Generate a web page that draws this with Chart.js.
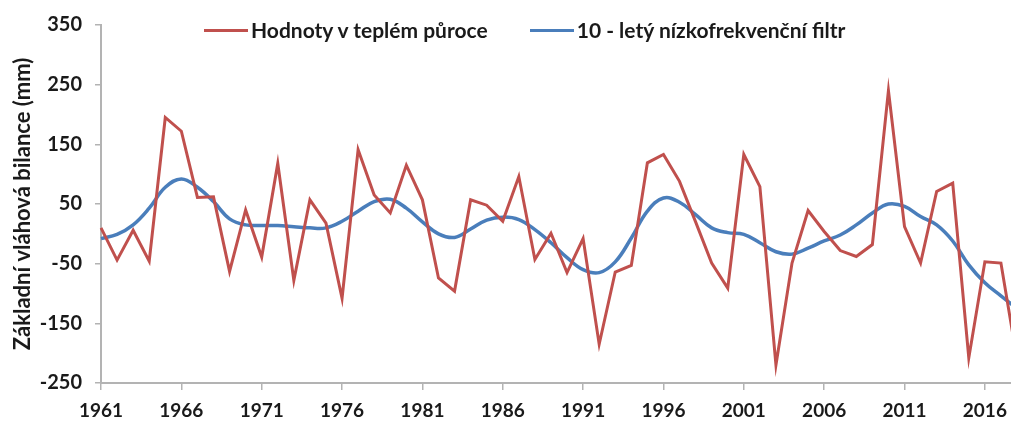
<!DOCTYPE html>
<html>
<head>
<meta charset="utf-8">
<script src="https://cdn.jsdelivr.net/npm/chart.js@4.4.1/dist/chart.umd.min.js"></script>
<style>
  html, body { margin: 0; padding: 0; overflow: hidden; background: #fff; }
  #wrap { position: relative; width: 1040px; height: 421px; }
  #legend {
    position: absolute; top: 17px; left: 204px;
    font: bold 21px Lato, sans-serif; line-height: 26px; color: #1a1a1a;
    display: flex; align-items: center; white-space: nowrap;
  }
  #legend .item { display: flex; align-items: center; margin-right: 42px; }
  #legend .line { width: 44px; height: 3px; margin-right: 3px; }
</style>
</head>
<body>
<div id="wrap">
  <canvas id="chart" width="1040" height="421"></canvas>
  <div id="legend"></div>
</div>
<script>
// years 1961-2018
const years = Array.from({ length: 58 }, (_, i) => String(1961 + i));

// values in the warm half-year (mm)
const warmValues = [
  10, -44, 6, -46, 195, 172, 61, 62, -63, 40,
  -39, 118, -78, 57, 18, -108, 141, 65, 35, 115,
  57, -74, -96, 57, 48, 21, 96, -43, 1, -65,
  -8, -185, -64, -53, 119, 133, 88, 20, -49, -91,
  133, 79, -220, -49, 39, 4, -28, -38, -18, 240,
  12, -49, 71, 85, -208, -47, -49, -210
];

// 10-year low-pass filter
const filterValues = [
  -8, -1, 15, 43, 78, 92, 78, 54, 25, 15,
  14, 14, 12, 10, 10, 21, 38, 54, 58, 43,
  20, 0, -6, 8, 23, 28, 24, 7, -15, -40,
  -60, -65, -47, -7, 38, 60, 53, 32, 10, 2,
  -1, -15, -30, -34, -24, -12, -2, 15, 35, 50,
  46, 29, 15, -12, -52, -82, -104, -125
];

const seriesNames = ["Hodnoty v teplém půroce", "10 - letý nízkofrekvenční filtr"];
const seriesColors = ["#c0504d", "#4a7ebb"];

const axisColor = "#b3b3b3";
const textColor = "#1a1a1a";
const tickFont = { family: "Lato", size: 19, weight: "bold" };

const ctx = document.getElementById("chart").getContext("2d");
new Chart(ctx, {
  type: "line",
  data: {
    labels: years,
    datasets: [
      {
        label: seriesNames[0],
        data: warmValues,
        borderColor: seriesColors[0],
        backgroundColor: seriesColors[0],
        borderWidth: 3,
        pointRadius: 0,
        tension: 0,
      },
      {
        label: seriesNames[1],
        data: filterValues,
        borderColor: seriesColors[1],
        backgroundColor: seriesColors[1],
        borderWidth: 3.5,
        pointRadius: 0,
        tension: 0.4,
      },
    ],
  },
  options: {
    responsive: false,
    animation: false,
    layout: { padding: { top: 24, right: 23, left: 0, bottom: 0 } },
    plugins: {
      legend: { display: false },
      tooltip: { enabled: false },
    },
    scales: {
      x: {
        offset: false,
        afterFit: (scale) => { scale.height = 38; },
        border: { color: axisColor, width: 2 },
        grid: {
          drawOnChartArea: false,
          tickLength: 7,
          lineWidth: 1.5,
          color: (c) => (c.index % 5 === 0 ? axisColor : "transparent"),
        },
        ticks: {
          autoSkip: false,
          maxRotation: 0,
          padding: 9,
          color: textColor,
          font: tickFont,
          callback: function (value, index) {
            return index % 5 === 0 ? this.getLabelForValue(value) : "";
          },
        },
      },
      y: {
        min: -250,
        max: 350,
        afterFit: (scale) => { scale.width = 101; },
        border: { color: axisColor, width: 2 },
        grid: { drawOnChartArea: false, tickLength: 6, lineWidth: 1.5, color: axisColor },
        ticks: { stepSize: 100, padding: 13, color: textColor, font: { family: "Lato", size: 20, weight: "bold" } },
        title: {
          display: true,
          text: "Základní vláhová bilance (mm)",
          color: textColor,
          font: { family: "Lato", size: 22, weight: "bold" },
          padding: { top: 10, bottom: 4 },
        },
      },
    },
  },
});

// legend as html, placed like the original
const legend = document.getElementById("legend");
seriesNames.forEach((name, i) => {
  const item = document.createElement("div");
  item.className = "item";
  const line = document.createElement("span");
  line.className = "line";
  line.style.background = seriesColors[i];
  const txt = document.createElement("span");
  txt.innerText = name;
  item.appendChild(line);
  item.appendChild(txt);
  legend.appendChild(item);
});
</script>
</body>
</html>
